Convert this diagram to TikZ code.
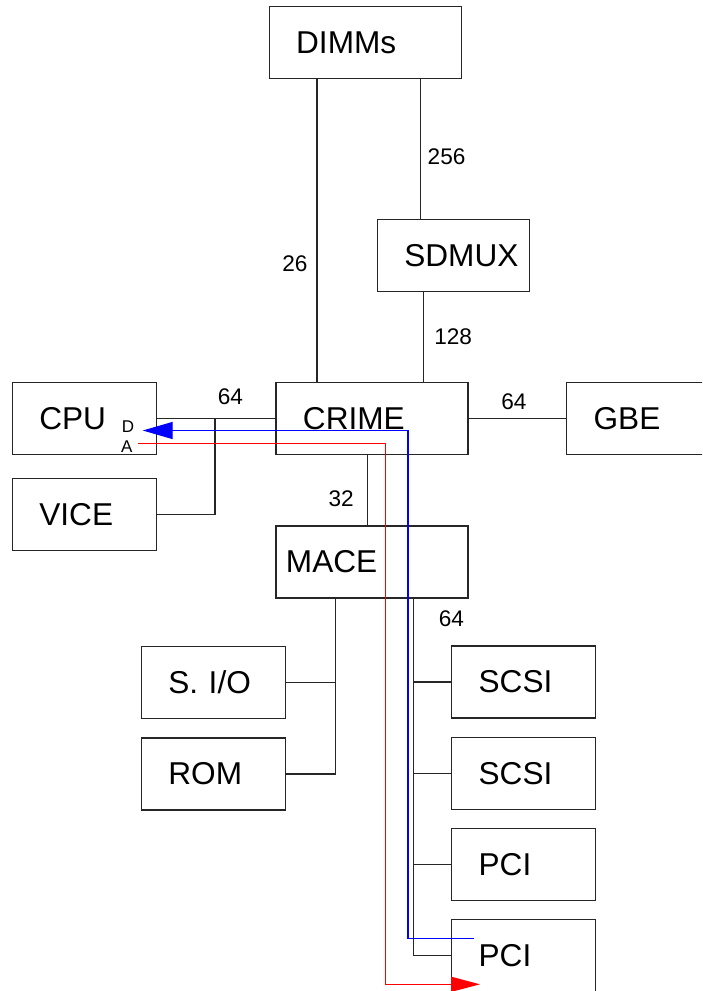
\documentclass[tikz,border=0pt]{standalone}
\usepackage{fontspec}
\setmainfont{Liberation Sans}
\usetikzlibrary{arrows.meta, calc}

\begin{document}
\begin{tikzpicture}[x=0.5pt, y=-0.5pt]

    % --- Styles ---
    \tikzset{
        blockBox/.style={draw=black!85, line width=0.65pt, anchor=north west, minimum height=36pt, inner ysep=0pt, inner xsep=13.5pt, text width=#1, align=left, font=\fontsize{15.8}{18}\selectfont},
        busLine/.style={line width=0.6pt, draw=black!85},
        busLabel/.style={inner sep=0pt, font=\fontsize{11.3}{13}\selectfont},
        pinLabel/.style={inner sep=0pt, font=\fontsize{8.5}{10}\selectfont},
        dataLine/.style={line width=0.7pt, draw=blue, -{Triangle[length=15pt, width=8.5pt]}},
        addrLine/.style={line width=0.7pt, draw=red, -{Triangle[length=14.5pt, width=7.5pt]}}
    }

    % --- Frame (page size) ---
    \useasboundingbox (0,0) rectangle (702,991);
    \clip (0,0) rectangle (702,991);

    % 1. Blocks
    \node[blockBox=69pt] (dimms) at (268.5,6) {DIMMs};
    \node[blockBox=49pt] (sdmux) at (376.7,219) {SDMUX};
    \node[blockBox=69pt] (crime) at (275.3,381.7) {CRIME};
    \node[blockBox=45pt] (cpu) at (11.7,381.7) {CPU};
    \node[blockBox=45pt] (vice) at (11.7,477.7) {VICE};
    \node[blockBox=45pt] (gbe) at (566,381.7) {GBE};
    \node[blockBox=86pt, inner xsep=5pt] (mace) at (275.3,525.3) {MACE};
    \node[blockBox=45pt] (sio) at (140.7,645.7) {S. I/O};
    \node[blockBox=45pt] (rom) at (140.7,737.3) {ROM};
    \node[blockBox=45pt] (scsiA) at (451,645.3) {SCSI};
    \node[blockBox=45pt] (scsiB) at (451,736.7) {SCSI};
    \node[blockBox=45pt] (pciA) at (451,828) {PCI};
    \node[blockBox=45pt] (pciB) at (451,919) {PCI};

    % 2. Bus columns
    \coordinate (xAddr) at (317,0);
    \coordinate (xData) at (420.7,0);
    \coordinate (xMux) at (423.7,0);
    \coordinate (xMace) at (367.3,0);
    \coordinate (xSlow) at (335.7,0);
    \coordinate (xFast) at (413.7,0);
    \coordinate (xVice) at (215,0);

    % 3. Memory side
    \draw[busLine] (dimms.south -| xAddr) -- node[busLabel, pos=0.61, left=4.5pt]{26} (crime.north -| xAddr);
    \draw[busLine] (dimms.south -| xData) -- node[busLabel, pos=0.557, right=3.2pt]{256} (sdmux.north -| xData);
    \draw[busLine] (sdmux.south -| xMux) -- node[busLabel, pos=0.5, right=5pt]{128} (crime.north -| xMux);

    % 4. CPU, VICE, GBE, MACE
    \draw[busLine] (cpu.east) -- node[busLabel, pos=0.62, above=6.3pt]{64} (crime.west);
    \draw[busLine] (cpu.east -| xVice) |- (vice.east);
    \draw[busLine] (crime.east) -- node[busLabel, pos=0.466, above=3.9pt]{64} (gbe.west);
    \draw[busLine] (crime.south -| xMace) -- node[busLabel, pos=0.62, left=6.5pt]{32} (mace.north -| xMace);

    % 5. I/O buses below MACE
    \draw[busLine] (mace.south -| xSlow) |- (rom.east);
    \draw[busLine] (sio.east) -- (sio.east -| xSlow);
    \draw[busLine] (mace.south -| xFast) -- node[busLabel, pos=0.057, right=12.3pt]{64} (pciB.west -| xFast) -- (pciB.west);
    \foreach \dev in {scsiA, scsiB, pciA} {
        \draw[busLine] (\dev.west -| xFast) -- (\dev.west);
    }

    % 6. Data and address paths (top layer)
    \node[pinLabel] (dPin) at (128,426.5) {D};
    \node[pinLabel] (aPin) at (126.7,446.5) {A};
    \coordinate (dSrc) at (473.7,938.7);
    \coordinate (dTip) at (142.7,430.5);
    \coordinate (aSrc) at (138.3,443.3);
    \coordinate (aTip) at (480,984.3);
    \coordinate (xBlue) at (408,0);
    \coordinate (xRed) at (385.7,0);
    \draw[dataLine] (dSrc) -| (xBlue |- dTip) -- (dTip);
    \draw[addrLine] (aSrc) -| (xRed |- aTip) -- (aTip);

\end{tikzpicture}
\end{document}
